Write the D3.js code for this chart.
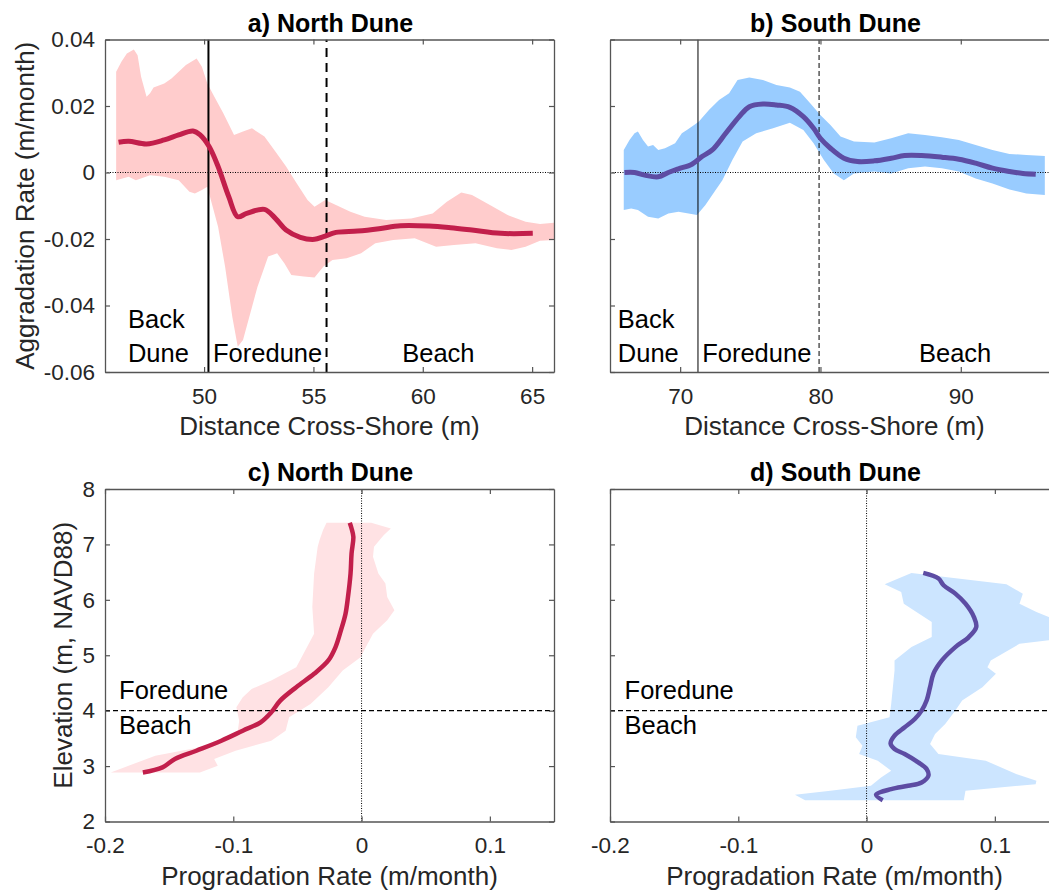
<!DOCTYPE html>
<html>
<head>
<meta charset="utf-8">
<script src="https://d3js.org/d3.v7.min.js"></script>
<style>
  body { margin: 0; background: #fff; }
  text { font-family: "Liberation Sans", Arial, sans-serif; }
</style>
</head>
<body>
<script>
// ---- a) North Dune: aggradation vs cross-shore distance
var aMeanX = [46.09,46.55,47.37,48.18,48.84,49.49,49.82,50.23,50.64,51.13,51.54,51.95,52.76,53.26,53.75,54.40,55.05,55.46,56.03,57.02,58.0,58.98,60.29,61.27,62.25,63.56,65.03];
var aMean  = [0.0091,0.0094,0.0086,0.0098,0.0113,0.0125,0.0113,0.0078,0.0018,-0.0073,-0.0133,-0.0123,-0.0111,-0.0138,-0.0173,-0.0195,-0.0201,-0.0193,-0.018,-0.0176,-0.0169,-0.016,-0.0161,-0.0166,-0.0173,-0.0183,-0.0183];
var aUpX = [45.98,46.22,46.47,46.79,46.96,47.12,47.37,47.53,47.69,48.18,48.51,48.84,49.17,49.66,49.9,50.15,50.47,50.88,51.37,51.78,52.19,52.76,53.26,53.75,54.24,54.73,55.05,55.54,56.03,56.69,57.34,58.32,59.47,60.45,61.1,61.76,62.25,63.07,63.88,64.7,65.36,66.0];
var aUp  = [0.0303,0.0333,0.0358,0.037,0.0353,0.0288,0.0228,0.0238,0.0256,0.0268,0.0283,0.0303,0.0323,0.0343,0.0318,0.0268,0.0228,0.0178,0.0113,0.0123,0.0133,0.0108,0.0063,0.0018,-0.0033,-0.0083,-0.0103,-0.0083,-0.0098,-0.0118,-0.0133,-0.0143,-0.0138,-0.0123,-0.0088,-0.006,-0.0068,-0.0098,-0.0128,-0.0148,-0.0155,-0.0151];
var aLowX = [45.98,46.55,46.88,47.53,48.18,48.84,49.33,49.58,49.9,50.15,50.31,50.64,50.96,51.29,51.54,51.78,52.11,52.44,52.93,53.34,53.67,53.99,54.56,55.05,55.46,55.87,56.52,57.18,57.83,58.65,59.63,60.61,61.43,62.41,63.39,64.05,64.7,65.36,66.0];
var aLow  = [-0.0023,-0.0013,-0.0023,-0.0008,-0.0013,-0.0023,-0.0058,-0.0063,-0.0053,-0.0043,-0.0083,-0.0163,-0.0283,-0.0434,-0.0524,-0.0504,-0.0424,-0.0344,-0.0253,-0.0243,-0.0273,-0.0308,-0.0313,-0.0316,-0.0283,-0.0263,-0.0258,-0.0243,-0.0213,-0.0203,-0.0198,-0.0223,-0.0218,-0.0213,-0.0228,-0.0233,-0.0223,-0.0205,-0.0203];
var aBounds = [50.2, 55.6]; // back dune | foredune | beach

// ---- b) South Dune
var bMeanX = [66.03,66.75,67.47,68.44,69.16,69.88,70.84,71.56,72.29,73.25,74.21,74.93,75.9,76.86,77.82,78.78,79.51,79.99,80.71,81.67,82.64,83.84,85.04,86.0,87.21,88.65,89.86,91.06,92.26,93.47,94.43,95.34];
var bMean  = [0,0,-0.0008,-0.0013,0,0.0011,0.0025,0.0048,0.0068,0.0118,0.0168,0.0198,0.0206,0.0203,0.0196,0.0168,0.0133,0.0103,0.0073,0.0043,0.0033,0.0035,0.0043,0.0051,0.0051,0.0046,0.004,0.0028,0.0013,0.0003,-0.0003,-0.0005];
var bUpX = [65.98,66.39,66.75,66.99,67.35,67.71,68.07,68.44,68.92,69.64,70.12,70.48,70.84,71.32,72.05,72.77,73.49,74.09,74.93,75.9,76.86,77.82,78.54,79.27,79.99,80.71,81.43,82.39,83.84,85.04,86.25,87.45,88.65,89.86,91.06,92.26,93.47,94.67,95.99];
var bUp  = [0.0068,0.0098,0.0118,0.0123,0.0098,0.0078,0.0083,0.0068,0.0073,0.0088,0.0118,0.0128,0.0138,0.0153,0.0188,0.0218,0.0238,0.0278,0.0286,0.0278,0.0263,0.0256,0.0243,0.0208,0.0173,0.0143,0.0108,0.0093,0.009,0.0103,0.0118,0.0113,0.0106,0.0098,0.0083,0.0068,0.0056,0.0053,0.005];
var bLowX = [65.98,66.51,66.99,67.71,68.44,69.16,69.88,70.6,71.2,71.8,72.53,73.01,73.73,74.45,75.42,76.62,77.82,78.78,79.51,80.23,80.95,81.67,82.39,83.84,85.04,86.25,87.45,88.65,89.86,91.06,92.26,93.47,94.67,95.99];
var bLow  = [-0.0113,-0.0108,-0.0113,-0.0133,-0.0138,-0.0123,-0.0118,-0.0123,-0.0128,-0.0098,-0.0053,-0.0023,0.0038,0.0093,0.0118,0.0133,0.015,0.0128,0.0088,0.0038,-0.0003,-0.0023,-0.0003,0.0003,-0.0003,0.0013,0.0018,0.0013,0.0003,-0.0018,-0.0033,-0.0051,-0.0063,-0.0068];
var bBounds = [71.27, 79.9];

// ---- c) North Dune: progradation vs elevation
var cMeanZ = [2.885,2.976,3.127,3.277,3.458,3.639,3.79,3.971,4.182,4.424,4.665,4.906,5.147,5.449,5.75,6.052,6.474,6.836,7.137,7.288,7.391];
var cMean  = [-0.1705,-0.1552,-0.1455,-0.1288,-0.1093,-0.0926,-0.0787,-0.0704,-0.0634,-0.0509,-0.037,-0.0259,-0.0203,-0.0161,-0.0125,-0.0106,-0.0086,-0.0078,-0.0064,-0.0078,-0.0092];
var cLeftZ = [7.391,7.258,7.077,6.957,6.474,5.871,5.388,5.026,4.785,4.544,4.393,4.242,4.061,3.82,3.579,3.338,3.187,3.006,2.885];
var cLeft  = [-0.0273,-0.03,-0.0328,-0.0342,-0.037,-0.0384,-0.037,-0.0453,-0.0509,-0.0704,-0.0857,-0.0926,-0.0976,-0.0954,-0.0968,-0.126,-0.1608,-0.1816,-0.1955];
var cRightZ = [7.391,7.288,7.167,6.957,6.776,6.474,6.293,6.052,5.811,5.63,5.388,5.207,4.966,4.725,4.424,4.122,3.88,3.639,3.458,3.277,3.127,3.006,2.885];
var cRight  = [0.0075,0.0228,0.0172,0.0097,0.0089,0.0131,0.0186,0.02,0.0256,0.02,0.0089,0.0047,-0.0008,-0.0147,-0.0259,-0.0398,-0.0565,-0.0592,-0.0704,-0.0982,-0.1149,-0.1121,-0.126];

// ---- d) South Dune
var dMeanZ = [2.385,2.481,2.584,2.644,2.704,2.825,2.946,3.066,3.217,3.308,3.41,3.549,3.7,3.85,4.001,4.182,4.424,4.665,4.906,5.147,5.328,5.509,5.69,5.931,6.112,6.263,6.384,6.486];
var dMean  = [0.0126,0.0074,0.0192,0.0324,0.0429,0.0482,0.0468,0.0403,0.0297,0.0218,0.0187,0.0218,0.0297,0.0376,0.0429,0.0468,0.0495,0.0521,0.0587,0.0692,0.0797,0.0855,0.0837,0.0771,0.0692,0.06,0.0561,0.0442];
var dLeftZ = [6.486,6.281,6.14,5.931,5.6,5.328,5.147,4.906,4.725,4.424,4.122,3.88,3.73,3.519,3.368,3.217,3.097,2.915,2.795,2.644,2.554,2.481,2.385];
var dLeft  = [0.035,0.0141,0.027,0.029,0.0508,0.0508,0.035,0.0218,0.0218,0.0205,0.0192,0.0179,-0.0071,-0.0084,-0.0032,-0.0058,0.0087,0.0192,0.0113,0.0034,-0.0282,-0.0558,-0.0479];
var dRightZ = [6.486,6.28,6.112,5.931,5.78,5.69,5.55,5.39,5.27,5.207,4.906,4.785,4.665,4.424,4.182,4.001,3.76,3.579,3.398,3.217,3.097,2.855,2.734,2.674,2.554,2.385];
var dRight  = [0.035,0.109,0.1218,0.1192,0.1324,0.142,0.158,0.152,0.142,0.1192,0.0968,0.0942,0.1008,0.0903,0.0745,0.0692,0.0613,0.0534,0.0495,0.056,0.0929,0.1166,0.1324,0.1318,0.0771,0.0758];
var zoneElev = 4; // foredune / beach split

// ticks
var aXTicks = [50, 55, 60, 65];
var bXTicks = [70, 80, 90];
var rateTicks = [-0.06, -0.04, -0.02, 0, 0.02, 0.04];
var progTicks = [-0.2, -0.1, 0, 0.1];
var elevTicks = [2, 3, 4, 5, 6, 7, 8];

var red = "#C21F4B", pink = "#FFCCCC", pinkLight = "#FFE2E4";
var purple = "#5D4CA3", blue = "#99CCFF", blueLight = "#CCE5FF";

var svg = d3.select("body").append("svg")
    .attr("width", 1049).attr("height", 891);

var pw = 449, ph = 332.5;

function zip(xs, ys) {
    return xs.map(function(v, i){ return [v, ys[i]]; });
}

function panel(id, left, top, xDom, yDom, xTicks, yTicks, yLabels) {
    var x = d3.scaleLinear().domain(xDom).range([left, left + pw]);
    var y = d3.scaleLinear().domain(yDom).range([top + ph, top]);
    svg.append("clipPath").attr("id", id)
        .append("rect").attr("x", left).attr("y", top).attr("width", pw).attr("height", ph);
    var g = svg.append("g").attr("clip-path", "url(#" + id + ")");
    var line = d3.line().x(function(d){ return x(d[0]); }).y(function(d){ return y(d[1]); });
    return {x: x, y: y, g: g, line: line, left: left, top: top,
            xTicks: xTicks, yTicks: yTicks, yLabels: yLabels};
}

function drawAxes(p, title, xlabel, ylabel, ylabelX) {
    var fmt = function(d){ return String(d); };
    var ax = svg.append("g").attr("transform", "translate(0," + (p.top + ph) + ")")
        .call(d3.axisBottom(p.x).tickValues(p.xTicks).tickSizeInner(-5).tickSizeOuter(0)
              .tickPadding(16).tickFormat(fmt));
    var at = svg.append("g").attr("transform", "translate(0," + p.top + ")")
        .call(d3.axisTop(p.x).tickValues(p.xTicks).tickSizeInner(-5).tickSizeOuter(0).tickFormat(""));
    var al = svg.append("g").attr("transform", "translate(" + p.left + ",0)")
        .call(d3.axisLeft(p.y).tickValues(p.yTicks).tickSizeInner(-5).tickSizeOuter(0)
              .tickPadding(10).tickFormat(p.yLabels ? fmt : ""));
    var ar = svg.append("g").attr("transform", "translate(" + (p.left + pw) + ",0)")
        .call(d3.axisRight(p.y).tickValues(p.yTicks).tickSizeInner(-5).tickSizeOuter(0).tickFormat(""));
    [ax, at, al, ar].forEach(function(a){
        a.selectAll("path.domain").attr("stroke", "#555").attr("stroke-width", 1.3);
        a.selectAll(".tick line").attr("stroke", "#555").attr("stroke-width", 1.2);
        a.selectAll("text").attr("font-size", "22.5px").attr("fill", "#262626")
            .attr("font-family", "'Liberation Sans', Arial, sans-serif");
    });

    svg.append("text").attr("x", p.left + pw / 2 + 1).attr("y", p.top - 8)
        .attr("text-anchor", "middle").attr("font-size", "25px").attr("font-weight", "bold")
        .attr("fill", "#000").text(title);
    svg.append("text").attr("x", p.left + pw / 2).attr("y", p.top + ph + 63)
        .attr("text-anchor", "middle").attr("font-size", "26px").attr("fill", "#262626")
        .text(xlabel);
    if (ylabel) {
        svg.append("text")
            .attr("transform", "translate(" + ylabelX + "," + (p.top + ph / 2) + ") rotate(-90)")
            .attr("text-anchor", "middle").attr("font-size", "26px").attr("fill", "#262626")
            .text(ylabel);
    }
}

function note(p, x, y, label) {
    svg.append("text").attr("x", p.x(x)).attr("y", p.y(y))
        .attr("font-size", "25.5px").attr("fill", "#000").text(label);
}

// ---------- a
var pa = panel("clipA", 105, 39.5, [45.47, 66], [-0.06, 0.04], aXTicks, rateTicks, true);
pa.g.append("path").attr("d", pa.line(zip(aUpX, aUp).concat(zip(aLowX, aLow).reverse())))
    .attr("fill", pink).attr("stroke", "none");
pa.g.append("path").attr("d", pa.line([[45.47, 0], [66, 0]]))
    .attr("stroke", "#000").attr("stroke-width", 1).attr("stroke-dasharray", "1,1.5");
pa.g.append("path").attr("d", pa.line([[aBounds[0], -0.06], [aBounds[0], 0.04]]))
    .attr("stroke", "#000").attr("stroke-width", 2);
pa.g.append("path").attr("d", pa.line([[aBounds[1], -0.06], [aBounds[1], 0.04]]))
    .attr("stroke", "#000").attr("stroke-width", 2).attr("stroke-dasharray", "9,6");
pa.g.append("path").attr("d", pa.line.curve(d3.curveCatmullRom)(zip(aMeanX, aMean)))
    .attr("fill", "none").attr("stroke", red).attr("stroke-width", 5);
pa.line.curve(d3.curveLinear);
drawAxes(pa, "a) North Dune", "Distance Cross-Shore (m)", "Aggradation Rate (m/month)", 34);
note(pa, 46.52, -0.0469, "Back");
note(pa, 46.52, -0.0569, "Dune");
note(pa, 50.41, -0.0569, "Foredune");
note(pa, 59.06, -0.0569, "Beach");

// ---------- b
var pb = panel("clipB", 610, 39.5, [65, 97], [-0.06, 0.04], bXTicks, rateTicks, false);
pb.g.append("path").attr("d", pb.line(zip(bUpX, bUp).concat(zip(bLowX, bLow).reverse())))
    .attr("fill", blue).attr("stroke", "none");
pb.g.append("path").attr("d", pb.line([[65, 0], [97, 0]]))
    .attr("stroke", "#000").attr("stroke-width", 1).attr("stroke-dasharray", "1,1.5");
pb.g.append("path").attr("d", pb.line([[bBounds[0], -0.06], [bBounds[0], 0.04]]))
    .attr("stroke", "#000").attr("stroke-width", 1);
pb.g.append("path").attr("d", pb.line([[bBounds[1], -0.06], [bBounds[1], 0.04]]))
    .attr("stroke", "#000").attr("stroke-width", 1).attr("stroke-dasharray", "5,3");
pb.g.append("path").attr("d", pb.line.curve(d3.curveCatmullRom)(zip(bMeanX, bMean)))
    .attr("fill", "none").attr("stroke", purple).attr("stroke-width", 5);
pb.line.curve(d3.curveLinear);
drawAxes(pb, "b) South Dune", "Distance Cross-Shore (m)", null, 0);
note(pb, 65.56, -0.0469, "Back");
note(pb, 65.56, -0.0569, "Dune");
note(pb, 71.57, -0.0569, "Foredune");
note(pb, 87.02, -0.0569, "Beach");

// ---------- c
var pc = panel("clipC", 105, 489, [-0.2, 0.15], [2, 8], progTicks, elevTicks, true);
pc.g.append("path").attr("d", pc.line(zip(cLeft, cLeftZ).concat(zip(cRight, cRightZ).reverse())))
    .attr("fill", pinkLight).attr("stroke", "none");
pc.g.append("path").attr("d", pc.line([[0, 2], [0, 8]]))
    .attr("stroke", "#000").attr("stroke-width", 1).attr("stroke-dasharray", "1,1.5");
pc.g.append("path").attr("d", pc.line([[-0.2, zoneElev], [0.15, zoneElev]]))
    .attr("stroke", "#000").attr("stroke-width", 1.2).attr("stroke-dasharray", "5,3");
pc.g.append("path").attr("d", pc.line.curve(d3.curveCatmullRom)(zip(cMean, cMeanZ)))
    .attr("fill", "none").attr("stroke", red).attr("stroke-width", 4.5);
pc.line.curve(d3.curveLinear);
drawAxes(pc, "c) North Dune", "Progradation Rate (m/month)", "Elevation (m, NAVD88)", 72);
note(pc, -0.189, 4.217, "Foredune");
note(pc, -0.189, 3.585, "Beach");

// ---------- d
var pd = panel("clipD", 610, 489, [-0.2, 0.15], [2, 8], progTicks, elevTicks, false);
pd.g.append("path").attr("d", pd.line(zip(dLeft, dLeftZ).concat(zip(dRight, dRightZ).reverse())))
    .attr("fill", blueLight).attr("stroke", "none");
pd.g.append("path").attr("d", pd.line([[0, 2], [0, 8]]))
    .attr("stroke", "#000").attr("stroke-width", 1).attr("stroke-dasharray", "1,1.5");
pd.g.append("path").attr("d", pd.line([[-0.2, zoneElev], [0.15, zoneElev]]))
    .attr("stroke", "#000").attr("stroke-width", 1.2).attr("stroke-dasharray", "5,3");
pd.g.append("path").attr("d", pd.line.curve(d3.curveCatmullRom)(zip(dMean, dMeanZ)))
    .attr("fill", "none").attr("stroke", purple).attr("stroke-width", 4.5);
pd.line.curve(d3.curveLinear);
drawAxes(pd, "d) South Dune", "Progradation Rate (m/month)", null, 0);
note(pd, -0.1886, 4.217, "Foredune");
note(pd, -0.1886, 3.585, "Beach");
</script>
</body>
</html>
